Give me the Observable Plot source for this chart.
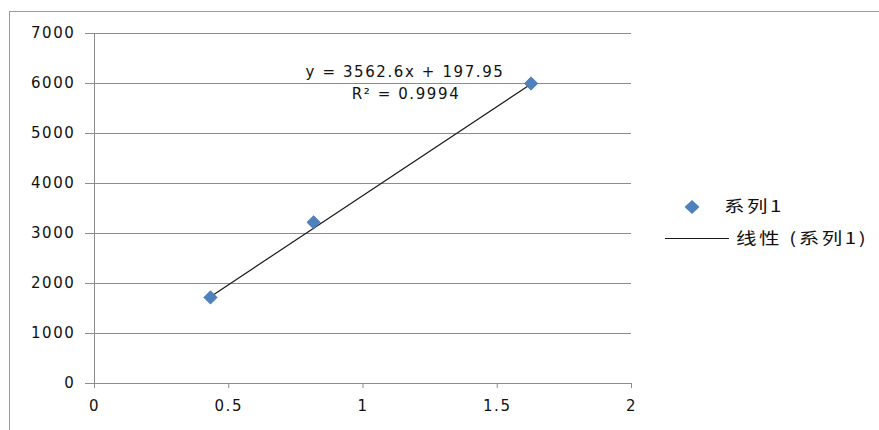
<!DOCTYPE html>
<html>
<head>
<meta charset="utf-8">
<script src="https://cdn.jsdelivr.net/npm/d3@7"></script>
<script src="https://cdn.jsdelivr.net/npm/@observablehq/plot@0.6"></script>
<style>
  html, body { margin: 0; padding: 0; background: #fff; }
  #wrap { position: relative; width: 879px; height: 430px; overflow: hidden;
          font-family: "DejaVu Sans", "Noto Sans CJK SC", sans-serif; color: #111; }
  #frame { position: absolute; left: 9px; top: 11px; width: 900px; height: 500px;
           border-left: 1px solid #9a9a9a; border-top: 1px solid #9a9a9a; }
  #chart { position: absolute; left: 0; top: 0; }
  .eq { position: absolute; width: 240px; text-align: center; font-size: 15px;
        letter-spacing: 1.6px; line-height: 1; white-space: nowrap; }
  .leg { position: absolute; white-space: nowrap; font-size: 16px; letter-spacing: 2px; line-height: 1;
         transform: scaleX(1.28); transform-origin: left center; font-family: "Noto Sans CJK SC", "DejaVu Sans", sans-serif; }
  #legsvg { position: absolute; left: 0; top: 0; }
</style>
</head>
<body>
<div id="wrap">
  <div id="frame"></div>
  <div id="chart"></div>
  <svg id="legsvg" width="879" height="430"></svg>
  <div class="eq" id="eq1" style="left:285px; top:65px;"></div>
  <div class="eq" id="eq2" style="left:286px; top:87px;"></div>
  <div class="leg" id="leg1" style="left:724px; top:197px;"></div>
  <div class="leg" id="leg2" style="left:736px; top:229px;"></div>
</div>
<script>
// ---- data ----
const xValues = [0.432, 0.816, 1.626];
const yValues = [1721, 3223, 6000];
const seriesName = "系列1";
const trendName = "线性 (系列1)";
const slope = 3562.6;
const intercept = 197.95;
const equationText = "y = 3562.6x + 197.95";
const r2Text = "R² = 0.9994";
const xTicks = [0, 0.5, 1, 1.5, 2];
const xTickLabels = ["0", "0.5", "1", "1.5", "2"];
const yTicks = [0, 1000, 2000, 3000, 4000, 5000, 6000, 7000];
const yTickLabels = ["0", "1000", "2000", "3000", "4000", "5000", "6000", "7000"];

const points = xValues.map((x, i) => ({x, y: yValues[i]}));
const trend = [d3.min(xValues), d3.max(xValues)].map(x => ({x, y: slope * x + intercept}));

const gridColor = "#8c8c8c";
const blue = "#4f81bd";

const chart = Plot.plot({
  width: 879,
  height: 430,
  marginLeft: 94,
  marginRight: 248,
  marginTop: 33,
  marginBottom: 47,
  x: {domain: [0, 2], label: null},
  y: {domain: [0, 7000], label: null},
  style: {fontFamily: "DejaVu Sans, sans-serif", fontSize: "15px", letterSpacing: "1.6px", background: "transparent", overflow: "visible"},
  marks: [
    Plot.ruleY(yTicks, {stroke: gridColor, strokeWidth: 1, strokeOpacity: 1}),
    Plot.ruleX([0], {stroke: gridColor, strokeWidth: 1}),
    Plot.axisY({ticks: yTicks, tickSize: 9, tickPadding: 10, stroke: gridColor, fill: "#111",
      tickFormat: d => yTickLabels[yTicks.indexOf(d)], label: null, strokeOpacity: 1}),
    Plot.axisX({ticks: xTicks, tickSize: 5, tickPadding: 12, stroke: gridColor, fill: "#111",
      tickFormat: d => xTickLabels[xTicks.indexOf(d)], label: null, strokeOpacity: 1}),
    Plot.line(trend, {x: "x", y: "y", stroke: "#1a1a1a", strokeWidth: 1.2}),
    Plot.dot(points, {x: "x", y: "y", symbol: "diamond2", r: 6, fill: blue, stroke: "#4472b0", strokeWidth: 0.8})
  ]
});
document.getElementById("chart").appendChild(chart);

document.getElementById("eq1").textContent = equationText;
document.getElementById("eq2").textContent = r2Text;
document.getElementById("leg1").textContent = seriesName;
document.getElementById("leg2").textContent = trendName;

// legend symbols
const leg = d3.select("#legsvg");
leg.append("path").attr("d", "M692,200 L699.5,207 L692,214 L684.5,207 Z").attr("fill", blue);
leg.append("line").attr("x1", 665).attr("x2", 729).attr("y1", 238.5).attr("y2", 238.5)
  .attr("stroke", "#1a1a1a").attr("stroke-width", 1.2);
</script>
</body>
</html>
